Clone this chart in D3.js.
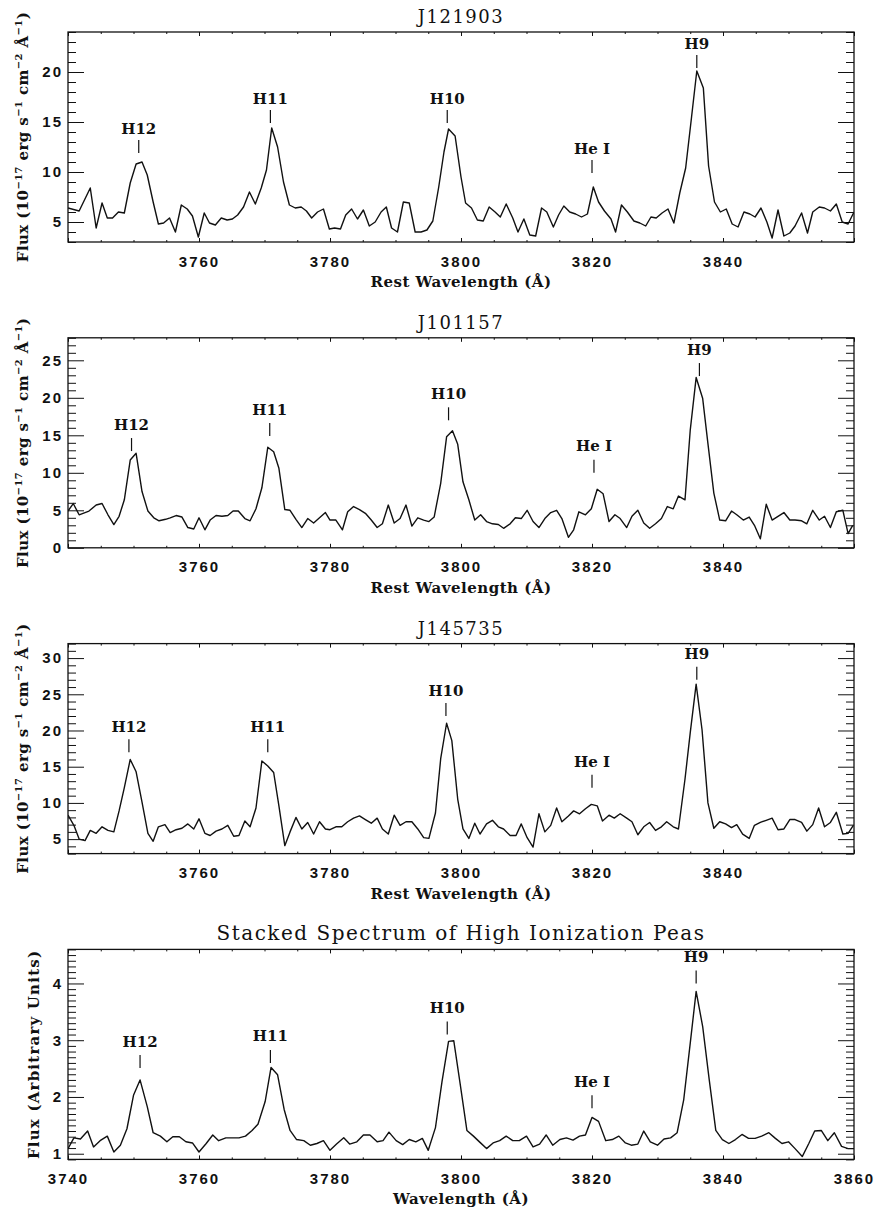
<!DOCTYPE html>
<html lang="en">
<head>
<meta charset="UTF-8">
<title>Balmer lines H9-H12 in Green Peas</title>
<script src="https://d3js.org/d3.v7.min.js"></script>
<style>
  body { margin: 0; background: #fff; }
  svg { display: block; }
  .tick text { font-family: "Liberation Sans", Arial, sans-serif; font-weight: bold; font-size: 15px; letter-spacing: 2px; fill: #111; }
  .tick line { stroke: #111; stroke-width: 1; }
  .title { font-family: "DejaVu Serif", serif; font-size: 18px; letter-spacing: 1.5px; fill: #111; }
  .axis-title { font-family: "DejaVu Serif", serif; font-weight: bold; font-size: 15px; letter-spacing: 0.5px; fill: #111; }
  .y-title { font-family: "DejaVu Serif", serif; font-weight: bold; font-size: 15px; letter-spacing: 0.4px; fill: #111; }
  .y-title.arb { letter-spacing: 1.2px; }
  .line-label { font-family: "DejaVu Serif", serif; font-weight: bold; font-size: 15px; fill: #111; }
</style>
</head>
<body>
<svg width="877" height="1212"></svg>
<script>
// ---- data ----
const lineNames = ["H12", "H11", "H10", "He I", "H9"];

const wave1 = [3740.0,3741.7,3743.4,3744.3,3745.2,3746.0,3746.8,3747.7,3748.6,3749.5,3750.4,3751.3,3752.1,3753.0,3753.8,3754.6,3755.5,3756.4,3757.3,3758.2,3759.0,3759.9,3760.8,3761.6,3762.5,3763.4,3764.3,3765.1,3765.9,3766.8,3767.7,3768.6,3769.5,3770.3,3771.1,3772.0,3772.9,3773.8,3774.7,3775.6,3776.4,3777.2,3778.1,3779.0,3779.9,3780.7,3781.6,3782.4,3783.3,3784.2,3785.1,3786.0,3786.9,3787.8,3788.6,3789.4,3790.3,3791.2,3792.1,3793.0,3793.9,3794.8,3795.7,3796.6,3797.4,3798.1,3799.1,3800.0,3800.7,3801.6,3802.5,3803.4,3804.3,3805.2,3806.0,3806.9,3807.9,3808.7,3809.6,3810.5,3811.4,3812.3,3813.1,3814.1,3814.9,3815.7,3816.6,3817.5,3818.4,3819.3,3820.2,3821.0,3821.9,3822.9,3823.6,3824.5,3825.4,3826.4,3827.3,3828.2,3829.0,3829.8,3830.7,3831.6,3832.5,3833.4,3834.3,3835.2,3836.0,3837.0,3837.8,3838.7,3839.6,3840.5,3841.4,3842.3,3843.2,3844.1,3844.9,3845.8,3846.7,3847.5,3848.4,3849.3,3850.2,3851.0,3852.0,3852.9,3853.7,3854.7,3855.5,3856.4,3857.3,3858.2,3859.1,3860.0];
const flux1 = [6.4,6.1,8.4,4.4,6.9,5.4,5.4,6.0,5.9,8.9,10.8,11.0,9.7,7.0,4.8,4.9,5.4,4.0,6.7,6.3,5.6,3.5,5.9,4.9,4.7,5.4,5.2,5.3,5.7,6.5,8.0,6.8,8.4,10.2,14.4,12.5,9.0,6.7,6.4,6.5,6.1,5.4,6.0,6.3,4.3,4.4,4.3,5.7,6.3,5.3,6.2,4.6,5.0,6.0,6.5,4.4,4.0,7.0,6.9,4.0,4.0,4.2,5.1,8.5,12.0,14.3,13.6,9.5,6.9,6.4,5.2,5.1,6.5,6.0,5.5,6.8,5.4,4.0,5.3,3.7,3.6,6.4,6.0,4.5,5.7,6.6,6.0,5.8,5.5,5.8,8.5,7.0,6.1,5.3,4.0,6.7,6.0,5.1,4.9,4.6,5.5,5.4,5.9,6.3,4.9,7.9,10.4,15.5,20.1,18.4,10.6,7.0,6.0,6.3,4.8,4.5,6.0,5.8,5.5,6.4,5.0,3.4,6.2,3.6,3.9,4.6,5.9,3.9,6.0,6.5,6.4,6.1,6.8,5.0,4.8,6.0];

const wave2 = [3740.0,3740.8,3741.7,3743.2,3744.3,3745.2,3746.1,3747.0,3747.8,3748.6,3749.5,3750.4,3751.3,3752.2,3753.1,3753.9,3754.9,3755.6,3756.5,3757.4,3758.3,3759.2,3760.0,3760.9,3761.7,3762.6,3763.5,3764.4,3765.2,3766.0,3767.0,3767.8,3768.7,3769.6,3770.5,3771.4,3772.2,3773.1,3773.9,3774.8,3775.7,3776.6,3777.5,3778.4,3779.3,3780.0,3780.9,3781.9,3782.7,3783.6,3784.5,3785.4,3786.3,3787.2,3788.0,3788.9,3789.8,3790.7,3791.6,3792.5,3793.4,3794.3,3795.1,3795.9,3796.9,3797.8,3798.7,3799.5,3800.3,3801.2,3802.1,3803.0,3803.9,3804.8,3805.7,3806.5,3807.5,3808.3,3809.2,3810.1,3811.0,3811.9,3812.8,3813.7,3814.6,3815.4,3816.4,3817.2,3818.0,3819.0,3819.9,3820.8,3821.7,3822.6,3823.5,3824.3,3825.3,3826.1,3827.0,3827.9,3828.8,3829.7,3830.6,3831.5,3832.4,3833.2,3834.2,3835.0,3835.9,3836.9,3837.7,3838.6,3839.5,3840.4,3841.3,3842.1,3843.1,3844.0,3844.8,3845.7,3846.6,3847.5,3848.4,3849.3,3850.2,3851.0,3852.0,3852.8,3853.7,3854.7,3855.5,3856.4,3857.3,3858.3,3859.1,3859.8];
const flux2 = [4.9,5.9,4.4,4.9,5.7,5.9,4.4,3.1,4.2,6.4,11.7,12.6,7.5,4.9,4.0,3.6,3.8,4.0,4.3,4.1,2.7,2.5,4.0,2.4,3.7,4.3,4.2,4.3,4.9,4.9,3.9,3.6,5.2,8.0,13.4,12.8,10.6,5.1,5.0,3.8,2.7,3.9,3.3,4.0,4.7,3.7,3.7,2.4,4.8,5.5,5.1,4.6,3.7,2.7,3.2,5.7,3.3,3.9,5.7,2.9,4.0,3.7,3.5,4.1,8.6,14.8,15.6,13.8,8.8,6.4,3.7,4.4,3.5,3.2,3.1,2.6,3.2,4.0,3.9,5.0,3.5,2.7,3.9,4.7,5.0,3.9,1.4,2.4,4.8,4.4,5.2,7.8,7.2,3.5,4.4,3.9,2.7,4.2,5.0,3.3,2.6,3.2,3.9,5.5,5.2,6.9,6.4,15.7,22.7,19.9,13.9,7.3,3.7,3.6,4.9,4.4,3.7,4.1,3.0,1.2,5.8,3.7,4.2,4.7,3.7,3.7,3.6,3.2,5.0,3.7,4.2,2.7,4.8,5.0,1.9,3.0];

const wave3 = [3740.0,3740.9,3741.7,3742.6,3743.4,3744.3,3745.2,3746.1,3747.0,3747.8,3748.6,3749.5,3750.4,3751.3,3752.2,3753.0,3753.8,3754.8,3755.6,3756.5,3757.4,3758.3,3759.2,3760.0,3760.9,3761.7,3762.6,3763.5,3764.4,3765.3,3766.1,3767.0,3767.8,3768.7,3769.6,3770.5,3771.4,3772.2,3773.1,3773.9,3774.8,3775.7,3776.6,3777.5,3778.4,3779.3,3780.0,3780.9,3781.8,3782.7,3783.6,3784.5,3785.4,3786.3,3787.2,3788.0,3788.9,3789.8,3790.7,3791.6,3792.5,3793.4,3794.3,3795.1,3796.1,3796.9,3797.8,3798.6,3799.5,3800.3,3801.2,3802.1,3802.9,3803.9,3804.8,3805.7,3806.5,3807.5,3808.4,3809.2,3810.1,3811.0,3811.9,3812.8,3813.7,3814.6,3815.4,3816.4,3817.2,3818.1,3819.0,3819.9,3820.8,3821.6,3822.6,3823.4,3824.3,3825.3,3826.1,3827.0,3827.9,3828.8,3829.7,3830.6,3831.4,3832.4,3833.2,3834.2,3835.0,3835.9,3836.8,3837.7,3838.6,3839.5,3840.4,3841.3,3842.1,3843.0,3844.0,3844.8,3845.7,3846.6,3847.5,3848.4,3849.3,3850.2,3851.0,3852.0,3852.8,3853.7,3854.6,3855.5,3856.4,3857.3,3858.3,3859.1,3859.9];
const flux3 = [8.3,6.9,5.0,4.8,6.2,5.8,6.7,6.2,6.0,8.9,12.1,16.0,14.3,10.1,5.8,4.7,6.7,7.0,5.9,6.3,6.5,7.1,6.4,7.8,5.8,5.5,6.1,6.4,6.9,5.4,5.5,7.5,6.7,9.3,15.8,15.1,14.2,9.6,4.1,6.0,8.0,6.4,7.3,5.7,7.4,6.4,6.3,6.7,6.7,7.4,7.9,8.2,7.7,7.2,7.9,6.4,5.7,8.3,6.9,7.4,7.4,6.4,5.2,5.1,8.6,16.1,21.0,18.6,10.5,6.4,5.1,7.2,5.7,7.1,7.6,6.7,6.4,5.5,5.5,7.1,5.2,3.9,8.5,6.0,6.9,9.3,7.4,8.2,8.9,8.5,9.2,9.8,9.6,7.5,8.3,7.9,8.5,7.9,7.4,5.6,6.7,7.3,6.2,6.7,7.4,6.7,6.4,13.3,19.7,26.4,20.1,10.0,6.5,7.4,7.1,6.6,7.0,5.7,5.1,6.9,7.3,7.6,7.9,6.3,6.4,7.7,7.7,7.3,6.1,7.0,9.3,6.7,7.3,8.7,5.7,5.8,6.9];

const wave4 = [3740.0,3740.9,3741.9,3743.0,3743.9,3744.9,3746.0,3747.0,3748.0,3749.0,3750.0,3751.0,3752.1,3753.0,3754.1,3755.1,3756.0,3757.0,3758.0,3759.0,3760.0,3761.1,3762.1,3763.0,3764.1,3765.1,3766.1,3767.1,3768.1,3769.0,3770.1,3771.0,3772.0,3773.0,3773.9,3774.9,3776.0,3777.0,3778.0,3779.0,3780.0,3781.0,3782.1,3783.0,3784.1,3785.1,3786.1,3787.2,3788.1,3789.0,3790.1,3791.1,3792.1,3793.1,3794.1,3795.0,3796.1,3797.1,3798.1,3798.9,3799.9,3800.9,3801.9,3802.9,3803.9,3804.9,3805.9,3806.9,3807.9,3808.9,3810.0,3811.0,3812.0,3813.0,3814.0,3815.1,3816.1,3817.1,3818.1,3819.0,3820.0,3821.0,3822.1,3823.1,3824.1,3825.1,3826.0,3827.0,3827.9,3828.9,3830.0,3831.0,3832.0,3833.0,3834.0,3835.0,3835.9,3836.9,3837.9,3838.9,3839.9,3840.9,3841.9,3842.9,3843.9,3844.9,3845.9,3847.0,3848.0,3849.0,3850.0,3851.0,3852.1,3853.1,3854.0,3855.0,3856.0,3857.0,3858.1,3859.1,3860.0];
const flux4 = [1.09,1.28,1.26,1.40,1.12,1.23,1.31,1.03,1.15,1.44,2.03,2.30,1.83,1.37,1.31,1.21,1.30,1.30,1.21,1.19,1.03,1.18,1.33,1.23,1.28,1.28,1.28,1.31,1.41,1.52,1.92,2.52,2.39,1.78,1.41,1.25,1.23,1.15,1.18,1.23,1.06,1.17,1.28,1.17,1.21,1.33,1.33,1.21,1.23,1.38,1.23,1.16,1.25,1.21,1.27,1.06,1.46,2.27,2.98,2.99,2.21,1.41,1.31,1.20,1.09,1.19,1.23,1.31,1.23,1.23,1.31,1.12,1.17,1.33,1.15,1.25,1.28,1.24,1.31,1.33,1.64,1.57,1.23,1.25,1.31,1.19,1.15,1.17,1.40,1.21,1.15,1.26,1.28,1.37,1.95,2.95,3.86,3.24,2.30,1.41,1.25,1.18,1.25,1.34,1.27,1.27,1.31,1.37,1.27,1.18,1.21,1.09,0.95,1.18,1.40,1.41,1.23,1.37,1.13,1.09,1.09];

// line-marker positions (wavelength) and the flux at the bottom of each marker
const markWave1 = [3750.8, 3770.9, 3797.9, 3820.0, 3836.0];
const markFlux1 = [11.9, 14.9, 14.9, 9.9, 20.4];
const markWave2 = [3749.7, 3770.8, 3798.1, 3820.3, 3836.4];
const markFlux2 = [12.9, 14.9, 17.0, 10.0, 22.9];
const markWave3 = [3749.3, 3770.5, 3797.7, 3820.0, 3836.0];
const markFlux3 = [17.0, 17.0, 22.0, 12.1, 27.0];
const markWave4 = [3751.0, 3770.9, 3797.9, 3820.0, 3835.9];
const markFlux4 = [2.51, 2.6, 3.1, 1.8, 4.0];

const xTickLabels = [3760, 3780, 3800, 3820, 3840];
const xTickLabelsFull = [3740, 3760, 3780, 3800, 3820, 3840, 3860];

// ---- layout ----
const svg = d3.select("svg");
const left = 68, right = 854, plotH = 210, firstTop = 32, step = 305.8;
const width = right - left;

const panels = [
  { title: "J121903", wave: wave1, flux: flux1, yDomain: [3, 24], major: 5, minor: 1,
    xTitle: "Rest Wavelength (Å)", yTitle: "flux", mw: markWave1, mf: markFlux1, xl: xTickLabels, gap: 6.5 },
  { title: "J101157", wave: wave2, flux: flux2, yDomain: [0, 28], major: 5, minor: 1,
    xTitle: "Rest Wavelength (Å)", yTitle: "flux", mw: markWave2, mf: markFlux2, xl: xTickLabels, gap: 8.5 },
  { title: "J145735", wave: wave3, flux: flux3, yDomain: [3, 32], major: 5, minor: 1,
    xTitle: "Rest Wavelength (Å)", yTitle: "flux", mw: markWave3, mf: markFlux3, xl: xTickLabels, gap: 7.5 },
  { title: "Stacked Spectrum of High Ionization Peas", wave: wave4, flux: flux4, yDomain: [0.9, 4.6], major: 1, minor: 0.1,
    xTitle: "Wavelength (Å)", yTitle: "arb", mw: markWave4, mf: markFlux4, xl: xTickLabelsFull, gap: 8.5 }
];

function stepTicks(domain, s) {
  const lo = Math.ceil(domain[0] / s - 1e-6), hi = Math.floor(domain[1] / s + 1e-6);
  return d3.range(lo, hi + 1).map(k => +(k * s).toFixed(3));
}

const x = d3.scaleLinear().domain([3740, 3860]).range([0, width]);
const xMajor = stepTicks(x.domain(), 20);
const xMinor = stepTicks(x.domain(), 5).filter(v => !xMajor.includes(v));

function tidy(g) {
  g.select(".domain").remove();
  g.selectAll(".tick line").attr("stroke", "#111");
}

panels.forEach((p, i) => {
  const top = firstTop + i * step;
  const g = svg.append("g").attr("transform", `translate(${left},${top})`);
  const y = d3.scaleLinear().domain(p.yDomain).range([plotH, 0]);
  const yMajor = stepTicks(p.yDomain, p.major);
  const yMinor = stepTicks(p.yDomain, p.minor).filter(v => !yMajor.some(m => Math.abs(m - v) < 1e-6));

  // x ticks (bottom with labels, top without)
  g.append("g").attr("transform", `translate(0,${plotH})`)
    .call(d3.axisBottom(x).tickValues(xMinor).tickSize(-2).tickFormat("")).call(tidy);
  g.append("g").attr("transform", `translate(0,${plotH})`)
    .call(d3.axisBottom(x).tickValues(xMajor).tickSize(-4).tickPadding(14)
      .tickFormat(d => p.xl.includes(d) ? d : "")).call(tidy);
  g.append("g").call(d3.axisTop(x).tickValues(xMinor).tickSize(-2).tickFormat("")).call(tidy);
  g.append("g").call(d3.axisTop(x).tickValues(xMajor).tickSize(-4).tickFormat("")).call(tidy);

  // y ticks (left with labels, right without)
  g.append("g").call(d3.axisLeft(y).tickValues(yMinor).tickSize(-8).tickFormat("")).call(tidy);
  g.append("g").call(d3.axisLeft(y).tickValues(yMajor).tickSize(-16).tickPadding(5)
    .tickFormat(d3.format("d"))).call(tidy);
  g.append("g").attr("transform", `translate(${width},0)`)
    .call(d3.axisRight(y).tickValues(yMinor).tickSize(-8).tickFormat("")).call(tidy);
  g.append("g").attr("transform", `translate(${width},0)`)
    .call(d3.axisRight(y).tickValues(yMajor).tickSize(-16).tickFormat("")).call(tidy);

  g.selectAll(".tick text").attr("font-family", null).attr("font-size", null);

  // frame
  g.append("rect").attr("width", width).attr("height", plotH)
    .attr("fill", "none").attr("stroke", "#111").attr("stroke-width", 1.3);

  // spectrum
  g.append("clipPath").attr("id", "clip" + i)
    .append("rect").attr("width", width).attr("height", plotH);
  const pts = p.wave.map((w, k) => [w, p.flux[k]]);
  g.append("path").datum(pts)
    .attr("clip-path", `url(#clip${i})`)
    .attr("fill", "none").attr("stroke", "#111").attr("stroke-width", 1.4)
    .attr("stroke-linejoin", "round")
    .attr("d", d3.line().x(d => x(d[0])).y(d => y(d[1])));

  // line markers
  lineNames.forEach((name, k) => {
    const mx = x(p.mw[k]), my = y(p.mf[k]);
    g.append("line").attr("x1", mx).attr("x2", mx).attr("y1", my).attr("y2", my - 13)
      .attr("stroke", "#111").attr("stroke-width", 1.2);
    g.append("text").attr("class", "line-label").attr("x", mx).attr("y", my - 13 - p.gap)
      .attr("text-anchor", "middle").text(name);
  });

  // titles
  g.append("text").attr("class", "title").attr("x", width / 2).attr("y", -9)
    .attr("text-anchor", "middle")
    .style("font-size", i === 3 ? "20px" : "18px")
    .text(p.title);
  g.append("text").attr("class", "axis-title").attr("x", width / 2).attr("y", plotH + 45)
    .attr("text-anchor", "middle").text(p.xTitle);

  // y title
  const yt = g.append("text").attr("class", p.yTitle === "arb" ? "y-title arb" : "y-title")
    .attr("text-anchor", "middle")
    .attr("transform", `translate(${p.yTitle === "arb" ? -29 : -40},${plotH / 2}) rotate(-90)`);
  if (p.yTitle === "arb") {
    yt.text("Flux (Arbitrary Units)");
  } else {
    const parts = [["Flux (10", 0], ["−17", 1], [" erg s", 0], ["−1", 1], [" cm", 0], ["−2", 1], [" Å", 0], ["−1", 1], [")", 0]];
    let up = false;
    parts.forEach(([t, sup]) => {
      const ts = yt.append("tspan").text(t);
      if (sup && !up) { ts.attr("dy", -6).style("font-size", "10px"); up = true; }
      else if (sup) { ts.style("font-size", "10px"); }
      else if (up) { ts.attr("dy", 6); up = false; }
    });
  }
});
</script>
</body>
</html>
